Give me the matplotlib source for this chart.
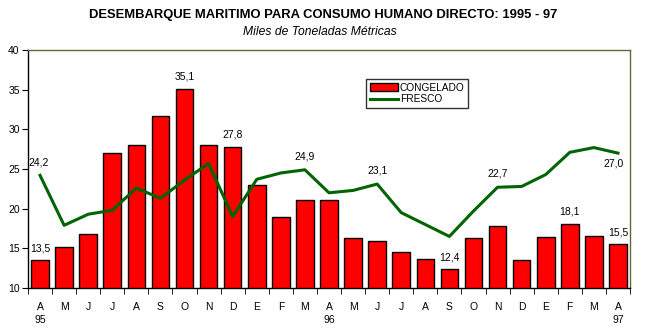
import numpy as np
import matplotlib
matplotlib.use("Agg")
from matplotlib import pyplot as plt

plt.rcParams["font.family"] = ["Liberation Sans", "DejaVu Sans"]

# months Apr 1995 .. Apr 1997
months = ["A", "M", "J", "J", "A", "S", "O", "N", "D", "E", "F", "M",
          "A", "M", "J", "J", "A", "S", "O", "N", "D", "E", "F", "M", "A"]
years = {0: "95", 12: "96", 24: "97"}

congelado = [13.5, 15.2, 16.8, 27.0, 28.0, 31.7, 35.1, 28.0, 27.8, 23.0, 18.9, 21.1,
             21.1, 16.3, 15.9, 14.5, 13.6, 12.4, 16.3, 17.8, 13.5, 16.4, 18.1, 16.6, 15.5]
fresco = [24.2, 17.9, 19.3, 19.8, 22.6, 21.3, 23.6, 25.7, 19.0, 23.7, 24.5, 24.9,
          22.0, 22.3, 23.1, 19.5, 18.0, 16.5, 19.7, 22.7, 22.8, 24.3, 27.1, 27.7, 27.0]

bar_labels = [0, 6, 8, 17, 22, 24]
line_labels = [11, 14, 19]

fig = plt.figure(figsize=(6.45, 3.34), dpi=100)
ax = fig.add_axes([28 / 645, 46 / 334, 602 / 645, 238 / 334])

x = np.arange(len(months))
bars = ax.bar(x, congelado, width=0.73, color="#ff0000", edgecolor="black",
              linewidth=1, label="CONGELADO", zorder=2)
line, = ax.plot(x, fresco, color="#006400", linewidth=2.2, label="FRESCO", zorder=3)

ax.set_xlim(-0.5, len(months) - 0.5)
ax.set_ylim(10, 40)
ax.set_yticks(np.arange(10, 41, 5))
ax.tick_params(axis="y", labelsize=7.5, length=4, direction="out", pad=2)

# month labels centred, ticks on the boundaries
ax.set_xticks(x)
ax.set_xticklabels(months, fontsize=7.5)
ax.tick_params(axis="x", length=0, pad=10)
ax.set_xticks(np.arange(-0.5, len(months), 1), minor=True)
ax.tick_params(axis="x", which="minor", length=4, direction="out")
for i, yr in years.items():
    ax.text(i, -0.115, yr, transform=ax.get_xaxis_transform(), ha="center",
            va="top", fontsize=7.5)

for side in ["top", "right"]:
    ax.spines[side].set_color("#666633")
for sp in ax.spines.values():
    sp.set_linewidth(1)

# value labels
for i in bar_labels:
    ax.annotate(f"{congelado[i]:.1f}".replace(".", ","), (x[i], congelado[i]),
                xytext=(0, 5), textcoords="offset points", ha="center",
                va="bottom", fontsize=7.5)
for i in line_labels:
    ax.annotate(f"{fresco[i]:.1f}".replace(".", ","), (x[i], fresco[i]),
                xytext=(0, 6), textcoords="offset points", ha="center",
                va="bottom", fontsize=7.5)
ax.annotate(f"{fresco[0]:.1f}".replace(".", ","), (x[0], fresco[0]),
            xytext=(-1, 6), textcoords="offset points", ha="center",
            va="bottom", fontsize=7.5)
ax.annotate(f"{fresco[-1]:.1f}".replace(".", ","), (x[-1], fresco[-1]),
            xytext=(-3, -4), textcoords="offset points", ha="center",
            va="top", fontsize=7.5)

leg = ax.legend([bars, line], ["CONGELADO", "FRESCO"], loc="upper left",
                bbox_to_anchor=((366 - 28) / 602, (288 - 79) / 238),
                fontsize=7.3, frameon=True, fancybox=False, edgecolor="black",
                borderpad=0.35, handlelength=2.8, handleheight=0.7, labelspacing=0.15,
                handletextpad=0.2, borderaxespad=0)
leg.get_frame().set_linewidth(1)

fig.text(323 / 645, 1 - 15 / 334, "DESEMBARQUE MARITIMO PARA CONSUMO HUMANO DIRECTO: 1995 - 97",
         ha="center", va="center", fontsize=9.4, fontweight="bold")
fig.text(320 / 645, 1 - 32 / 334, "Miles de Toneladas Métricas", ha="center", va="center",
         fontsize=8.7, style="italic")

fig.savefig("out.png", dpi=100)
